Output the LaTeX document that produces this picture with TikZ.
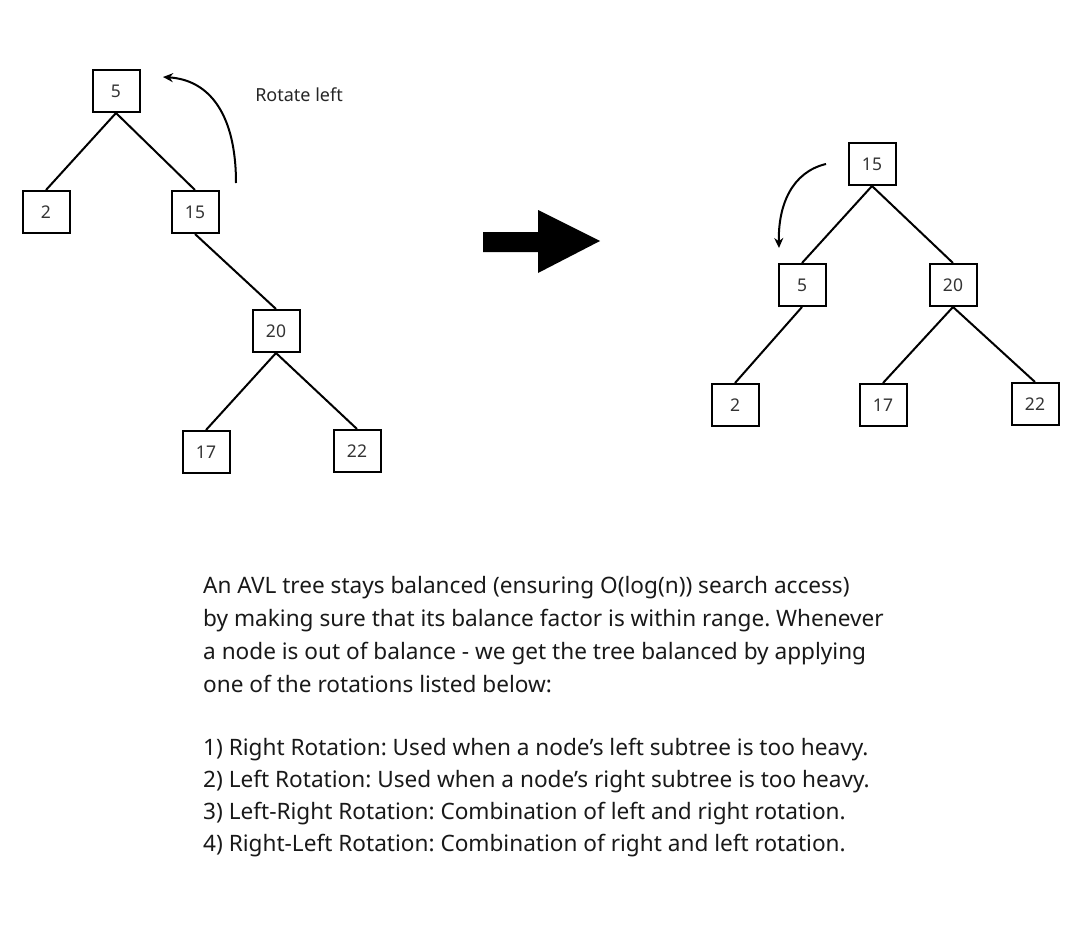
\documentclass[tikz,border=0pt]{standalone}
\usepackage{fontspec}
\setmainfont{Noto Sans}
\usetikzlibrary{arrows.meta}
\begin{document}
\frenchspacing
\begin{tikzpicture}[x=1pt,y=-1pt,
  tnode/.style={draw,line width=2pt,minimum width=47pt,minimum height=42pt,inner sep=0pt,font=\fontsize{17.5}{20}\selectfont,text=black!80},
  edge/.style={line width=2pt},
  rot/.style={line width=2pt,-{Stealth[length=10pt,width=9pt]}},
  body/.style={anchor=base west,inner sep=0pt,font=\fontsize{22.6}{27}\selectfont,text=black!90}]
\useasboundingbox (0,0) rectangle (1080,926);
% left tree
\node[tnode] (a5) at (116,91) {5};
\node[tnode] (a2) at (46,212) {2};
\node[tnode] (a15) at (195,212) {15};
\node[tnode] (a20) at (276,331) {20};
\node[tnode] (a17) at (206,452) {17};
\node[tnode] (a22) at (357,451) {22};
\draw[edge] (a5.south) -- (a2.north);
\draw[edge] (a5.south) -- (a15.north);
\draw[edge] (a15.south) -- (a20.north);
\draw[edge] (a20.south) -- (a17.north);
\draw[edge] (a20.south) -- (a22.north);
\coordinate (la) at (236,183);
\coordinate (lb) at (163,77);
\draw[rot] (la) .. controls (236,115) and (210,80) .. (lb);
\node[font=\fontsize{18}{21}\selectfont,text=black!85] (rl) at (299,95) {Rotate left};
% big arrow
\fill (483,232) -- (538,232) -- (538,210) -- (600,241) -- (538,273) -- (538,252) -- (483,252) -- cycle;
% right tree
\node[tnode] (b15) at (872,164) {15};
\node[tnode] (b5) at (802,285) {5};
\node[tnode] (b20) at (953,285) {20};
\node[tnode] (b2) at (735,405) {2};
\node[tnode] (b17) at (883,405) {17};
\node[tnode] (b22) at (1035,404) {22};
\draw[edge] (b15.south) -- (b5.north);
\draw[edge] (b15.south) -- (b20.north);
\draw[edge] (b5.south) -- (b2.north);
\draw[edge] (b20.south) -- (b17.north);
\draw[edge] (b20.south) -- (b22.north);
\coordinate (ra) at (826,164);
\coordinate (rb) at (779,248);
\draw[rot] (ra) .. controls (792,172) and (778,205) .. (rb);
% text
\node[body] (t1) at (203,593) {An AVL tree stays balanced (ensuring O(log(n)) search access)};
\node[body] (t2) at (203,626) {by making sure that its balance factor is within range. Whenever};
\node[body] (t3) at (203,659) {a node is out of balance - we get the tree balanced by applying};
\node[body] (t4) at (203,692) {one of the rotations listed below:};
\node[body] (l1) at (203,755) {1) Right Rotation: Used when a node’s left subtree is too heavy.};
\node[body] (l2) at (203,787) {2) Left Rotation: Used when a node’s right subtree is too heavy.};
\node[body] (l3) at (203,819) {3) Left-Right Rotation: Combination of left and right rotation.};
\node[body] (l4) at (203,851) {4) Right-Left Rotation: Combination of right and left rotation.};
\end{tikzpicture}
\end{document}
